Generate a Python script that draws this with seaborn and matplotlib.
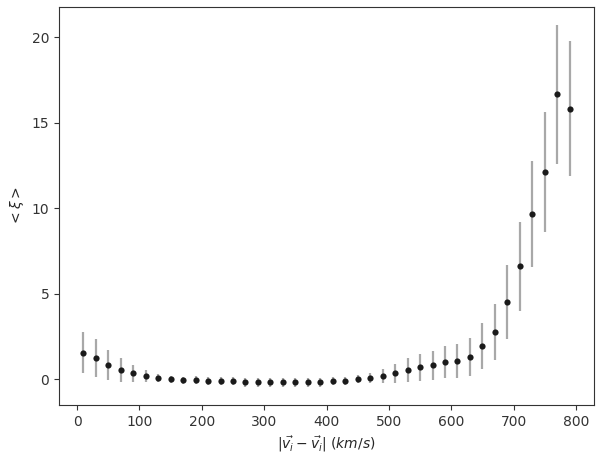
import matplotlib
matplotlib.use("Agg")
import matplotlib.pyplot as plt
import seaborn as sns
import numpy as np
import pandas as pd

velocity = [10, 30, 50, 70, 90, 110, 130, 150, 170, 190,
            210, 230, 250, 270, 290, 310, 330, 350, 370, 390,
            410, 430, 450, 470, 490, 510, 530, 550, 570, 590,
            610, 630, 650, 670, 690, 710, 730, 750, 770, 790]
xi_mean = [1.55, 1.22, 0.83, 0.53, 0.35, 0.18, 0.06, 0.0, -0.06, -0.06,
           -0.12, -0.12, -0.12, -0.18, -0.18, -0.18, -0.18, -0.18, -0.18, -0.18,
           -0.12, -0.12, 0.0, 0.07, 0.2, 0.35, 0.53, 0.7, 0.8, 1.0,
           1.06, 1.3, 1.92, 2.75, 4.5, 6.6, 9.63, 12.1, 16.65, 15.8]
xi_err = [1.2, 1.1, 0.85, 0.7, 0.5, 0.35, 0.22, 0.2, 0.2, 0.22,
          0.25, 0.25, 0.25, 0.25, 0.25, 0.27, 0.27, 0.25, 0.25, 0.25,
          0.25, 0.25, 0.25, 0.28, 0.4, 0.55, 0.7, 0.8, 0.85, 0.95,
          1.0, 1.1, 1.35, 1.65, 2.15, 2.6, 3.1, 3.5, 4.05, 3.95]

plt.rcParams["text.color"] = "#262626"
plt.rcParams["axes.labelcolor"] = "#262626"
plt.rcParams["xtick.color"] = "#333333"
plt.rcParams["ytick.color"] = "#333333"
plt.rcParams["axes.edgecolor"] = "#333333"

df = pd.DataFrame({"v": velocity, "xi": xi_mean, "err": xi_err})

fig = plt.figure(figsize=(5.98, 4.55), dpi=100)
ax = fig.add_axes([0.0987, 0.11, 0.8946, 0.8746])

ax.errorbar(df["v"], df["xi"], yerr=df["err"], fmt="none",
            ecolor="#a8a8a8", elinewidth=1.6, zorder=1)
sns.scatterplot(data=df, x="v", y="xi", ax=ax, color="#1a1a1a",
                s=20, edgecolor="#1a1a1a", linewidth=0, zorder=2)

ax.set_xlabel(r"$|\vec{v_i} - \vec{v_i}|$ $(km/s)$")
ax.set_ylabel(r"$<\xi>$")
ax.set_xticks([0, 100, 200, 300, 400, 500, 600, 700, 800])
ax.set_yticks([0, 5, 10, 15, 20])
ax.margins(x=0.05, y=0.05)

fig.savefig("out.png", dpi=100)
